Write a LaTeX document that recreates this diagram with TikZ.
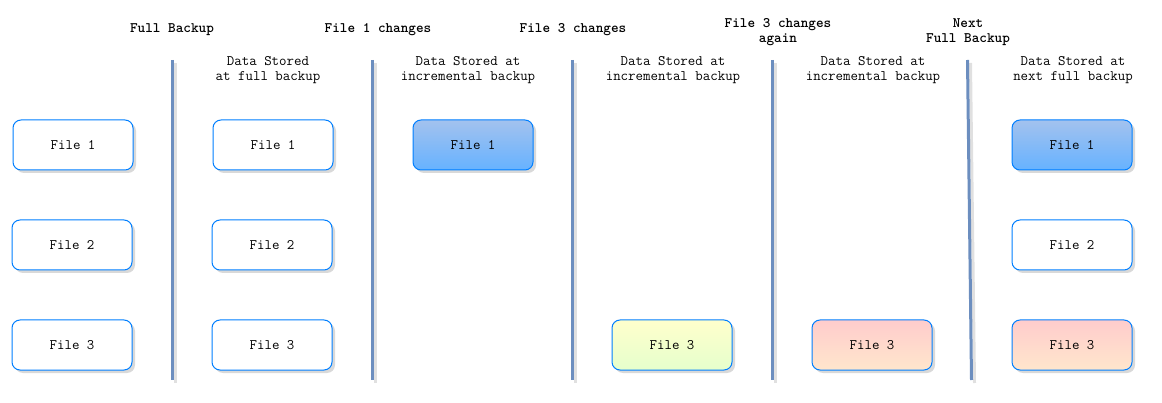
\documentclass[tikz,border=0pt]{standalone}
\usepackage{fontspec}
\usetikzlibrary{shadows}
\definecolor{boxline}{HTML}{007FFF}
\definecolor{sepline}{HTML}{6C8EBF}
\definecolor{blueTop}{HTML}{A3C2EE}
\definecolor{blueBot}{HTML}{66B2FF}
\definecolor{yelTop}{HTML}{FFFFCC}
\definecolor{yelBot}{HTML}{E6FFCC}
\definecolor{redTop}{HTML}{FFCCCC}
\definecolor{redBot}{HTML}{FFE6CC}
\tikzset{
  x=1pt, y=-1pt,
  every node/.style={font=\ttfamily\fontsize{14.5}{15}\selectfont, text=black},
  filebox/.style={draw=boxline, line width=1pt, rounded corners=8pt, fill=white,
    minimum width=120pt, minimum height=50pt, inner sep=0pt,
    drop shadow={shadow xshift=3pt, shadow yshift=-3pt, opacity=0.25, fill=black!60}},
  bluebox/.style={filebox, top color=blueTop, bottom color=blueBot},
  yelbox/.style={filebox, top color=yelTop, bottom color=yelBot},
  redbox/.style={filebox, top color=redTop, bottom color=redBot},
  headtext/.style={align=center, font=\ttfamily\bfseries\fontsize{14.5}{15}\selectfont, inner sep=0pt},
  subtext/.style={align=center, inner sep=0pt},
  sep/.style={draw=sepline, line width=3pt},
  sepshadow/.style={draw=black!12, line width=3pt},
}
\begin{document}
\begin{tikzpicture}
\useasboundingbox (0,0) rectangle (1162,403);
% separators
\foreach \n/\xa/\xb in {a/172.5/172.5, b/372.5/372.5, c/572.5/572.5, d/772.5/772.5, e/967.5/971.5}{
  \coordinate (s\n top) at (\xa,60);
  \coordinate (s\n bot) at (\xb,380);
  \draw[sepshadow] ([shift={(3,3)}]s\n top) -- ([shift={(3,3)}]s\n bot);
  \draw[sep] (s\n top) -- (s\n bot);
}
% headings
\node[headtext] (h1) at (172,30) {Full Backup};
\node[headtext] (h2) at (378,30) {File 1 changes};
\node[headtext] (h3) at (573,30) {File 3 changes};
\node[headtext] (h4) at (778,32.5) {File 3 changes\\again};
\node[headtext] (h5) at (968,32.5) {Next\\Full Backup};
% sub headings
\node[subtext] (t1) at (268,70.5) {Data Stored\\at full backup};
\node[subtext] (t2) at (468,70.5) {Data Stored at\\incremental backup};
\node[subtext] (t3) at (673,70.5) {Data Stored at\\incremental backup};
\node[subtext] (t4) at (873,70.5) {Data Stored at\\incremental backup};
\node[subtext] (t5) at (1073,70.5) {Data Stored at\\next full backup};
% column 0
\node[filebox] (a1) at (73,145) {File 1};
\node[filebox] (a2) at (72,245) {File 2};
\node[filebox] (a3) at (72,345) {File 3};
% column 1
\node[filebox] (b1) at (273,145) {File 1};
\node[filebox] (b2) at (272,245) {File 2};
\node[filebox] (b3) at (272,345) {File 3};
% column 2
\node[bluebox] (c1) at (473,145) {File 1};
% column 3
\node[yelbox] (d3) at (672,345) {File 3};
% column 4
\node[redbox] (e3) at (872,345) {File 3};
% column 5
\node[bluebox] (f1) at (1072,145) {File 1};
\node[filebox] (f2) at (1072,245) {File 2};
\node[redbox] (f3) at (1072,345) {File 3};
\end{tikzpicture}
\end{document}
